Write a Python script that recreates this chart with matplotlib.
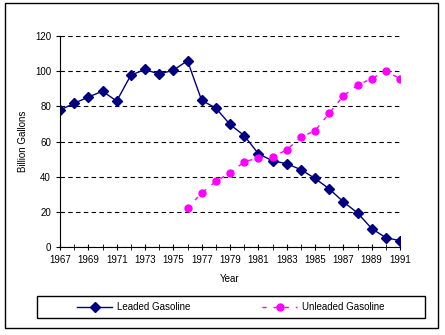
import matplotlib
matplotlib.use("Agg")
import matplotlib.pyplot as plt
from matplotlib.patches import Rectangle

plt.rcParams["font.family"] = ["Liberation Sans", "DejaVu Sans"]

years = list(range(1967, 1992))
leaded = [77.9, 81.7, 85.3, 88.6, 83.0, 97.7, 101.0, 98.3, 100.6, 105.9,
          83.4, 79.0, 69.7, 63.4, 53.1, 49.0, 47.4, 44.0, 39.0, 33.1,
          25.7, 19.4, 10.5, 5.3, 3.6]
unleaded_years = list(range(1976, 1992))
unleaded = [22.1, 30.7, 37.3, 42.1, 48.4, 50.7, 51.2, 55.2, 62.5, 66.1,
            76.0, 85.9, 92.0, 95.8, 100.0, 95.8]

fig = plt.figure(figsize=(4.45, 3.35), dpi=100)
ax = fig.add_axes([60 / 445, 88 / 335, 340 / 445, 211 / 335])

ax.plot(years, leaded, color="#000080", lw=1, marker="D", ms=5,
        label="Leaded Gasoline")
ax.plot(unleaded_years, unleaded, color="#FF00FF", lw=1, ls=(0, (3, 5)),
        marker="o", ms=5, label="Unleaded Gasoline")

ax.set_xlim(1967, 1991)
ax.set_ylim(0, 120)
ax.set_xticks(range(1967, 1992, 2))
ax.set_xticks(range(1967, 1992), minor=True)
ax.set_yticks(range(0, 121, 20))
ax.tick_params(axis="both", labelsize=7, width=0.8, color="black")
ax.tick_params(axis="x", which="both", direction="inout", length=5)
ax.tick_params(axis="y", direction="out", length=3)
for s in ["top", "right"]:
    ax.spines[s].set_visible(False)
ax.grid(axis="y", color="black", ls=(0, (4, 3)), lw=0.8)
ax.set_axisbelow(True)
ax.set_xlabel("Year", fontsize=7, labelpad=6)
ax.set_ylabel("Billion Gallons", fontsize=7, labelpad=5)

# legend box drawn separately so the entries can sit where the original has them
fig.patches.append(Rectangle((37 / 445, 17 / 335), 388 / 445, 22 / 335,
                             transform=fig.transFigure, fill=False,
                             edgecolor="black", lw=1))
fig.legend(loc="center", bbox_to_anchor=(231 / 445, 28 / 335), ncol=2,
           fontsize=7, frameon=False, handlelength=3.6, handletextpad=0.5,
           columnspacing=7.4, borderaxespad=0)

fig.patches.append(Rectangle((5 / 445, 7 / 335), 433 / 445, 325 / 335,
                             transform=fig.transFigure, fill=False,
                             edgecolor="black", lw=1))

fig.savefig("out.png", dpi=100)
